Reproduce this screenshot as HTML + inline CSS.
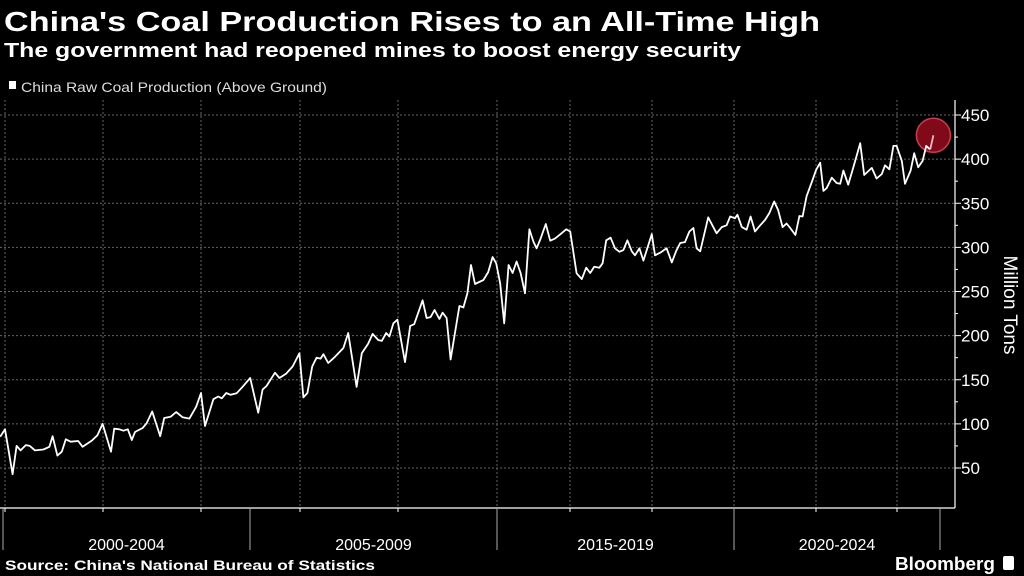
<!DOCTYPE html>
<html><head><meta charset="utf-8"><style>
html,body{margin:0;padding:0;background:#000;}
svg{display:block;font-family:"Liberation Sans","DejaVu Sans",sans-serif;}
</style></head><body>
<svg id="chart" width="1024" height="576" viewBox="0 0 1024 576">
<rect x="0" y="0" width="1024" height="576" fill="#000"/>
<text x="4" y="31" font-size="28" font-weight="bold" fill="#fff" textLength="816" lengthAdjust="spacingAndGlyphs">China's Coal Production Rises to an All-Time High</text>
<text x="4" y="57" font-size="20" font-weight="bold" fill="#fff" textLength="737" lengthAdjust="spacingAndGlyphs">The government had reopened mines to boost energy security</text>
<g>
<rect x="9" y="81" width="7" height="8" fill="#fff"/>
<text x="21" y="92" font-size="14" fill="#ddd" textLength="306" lengthAdjust="spacingAndGlyphs">China Raw Coal Production (Above Ground)</text>
</g>
<g id="grid"></g>
<g id="axes"></g>
<g id="series"></g>
<text x="0" y="0" font-size="19" fill="#fff" transform="translate(1004,305) rotate(90)" text-anchor="middle">Million Tons</text>
<text x="5" y="570" font-size="14" font-weight="bold" fill="#fff" textLength="370" lengthAdjust="spacingAndGlyphs">Source: China's National Bureau of Statistics</text>
<text x="895" y="570" font-size="18" font-weight="bold" fill="#fff" textLength="100" lengthAdjust="spacingAndGlyphs">Bloomberg</text>
<rect x="1003" y="556" width="11" height="14" rx="2" fill="#fff"/>
</svg>
<script>
// month index from start of series
const months = [-1.2,0,1.9,2.9,3.9,5.2,6.2,7.5,9.6,11.1,11.9,13.1,14.2,15.2,16.4,18.3,19.4,21.7,23.1,24.4,26.5,27.3,28.6,29.6,30.7,31.7,32.5,34.4,35.4,36.8,38.8,39.8,41.4,42.8,44.4,46.1,47.8,49,50,52.1,53.3,54.2,55.3,56.4,57.9,59.4,61.3,63.3,64.4,65.4,67.5,68.6,70.3,71.9,73.6,74.6,75.6,76.8,77.9,78.9,79.6,80.8,82.5,84.6,85.8,87.9,89.2,90.8,91.9,93.3,94.2,95.3,96.1,97.1,98.1,100,101.3,102.3,104.4,105.4,106.4,107.4,108.6,109.4,110.4,111.4,113.6,114.6,115.6,116.5,117.5,119.6,120.8,121.9,122.8,123.8,124.8,125.9,126.9,127.9,128.9,130,131.1,132.1,132.9,133.9,135.2,136.3,137.5,138.9,140.3,141.3,142.9,144.2,145.3,146.3,147.3,148.6,149.4,150.3,151.4,152.5,153.6,154.6,155.6,156.7,157.5,158.6,159.6,161.7,162.5,163.8,165.4,166.7,167.8,168.8,170,171.1,172.1,172.9,173.8,175.8,177.9,179.2,180.4,181.3,182.5,183.1,184.2,185.4,186.4,187.5,188.6,190,191.1,192.3,193.3,194.4,195.4,196.3,197.6,198.6,199.4,200.4,201.7,202.8,203.8,204.6,205.4,206.7,207.9,208.8,209.6,210.8,212.1,213.8,214.8,216.7,217.9,219.2,220,221.1,222.1,222.9,224.2,225,226.4,227.3,228.3,229.4,230.3,231.3,232.1];
const production = [85.5,93.8,43,75,70,76,75,70,71,74,86,64,68.5,82.5,79.8,80.6,74,81,87,100,68.5,94.5,93.8,92.3,93.8,81.7,90.8,95.3,100.6,114,86,106.7,108,113.5,107.4,106,119.5,135,97.6,128,131,129,135,133,134.6,142,152,112.7,139,143,158,152,157,165,180,130,135,165,175,174,179,169,176,186,203,142,180,191,202,195,194,203,199,214,218,170,211,213,240,220,221,229,219,226,220,173,233.6,232,248,280,258.5,263,272,289,282,259,214,280,271,284,271,248,320.5,306.5,299,310,326.5,307.6,310,315,320.5,318,270.6,264,277,271,278,277,282,308,311,299,295,297,308,295.5,291,299,285,315,291,294,299,283,296,305,306,318,322,299,295.5,334,316,323,325,335,333,337,323,320,335,318,324,331,339,352,342,323,327,322,314,335.6,335,358,374,388,396,364,367,379,373,372,387,371,391,418,382,390,378,383,393,388.5,415,415,398,372,387,406.6,390.7,398,415,411,427];
const yTicks = [50,100,150,200,250,300,350,400,450];
const yMinorTicks = [75,125,175,225,275,325,375,425];
const gridMonths = [0,24.5,49,73.75,98.25,123,141.25,161.75,182.25,202.75,223];
const periodBounds = [-0.5,61.25,123,182.25,233.75];
const periodLabels = ["2000-2004","2005-2009","2015-2019","2020-2024"];

const NS="http://www.w3.org/2000/svg";
function xS(t){return 5+4*t;}
function yS(v){return 468-(v-50)*0.8825;}
function mk(tag,attrs,parent){const e=document.createElementNS(NS,tag);for(const k in attrs)e.setAttribute(k,attrs[k]);parent.appendChild(e);return e;}
const grid=document.getElementById('grid'),axes=document.getElementById('axes'),series=document.getElementById('series');
const AXR=955, AXB=508;

yTicks.forEach(v=>{
  const l=mk('line',{x1:0,x2:AXR,y1:yS(v),y2:yS(v),stroke:'#666','stroke-width':1,'stroke-dasharray':'2,2'},grid);
  
  
  const tk=mk('line',{x1:AXR,x2:AXR+6,y1:yS(v),y2:yS(v),stroke:'#fff','stroke-width':1},axes);
  
  
  const t=mk('text',{x:AXR+6,y:yS(v)+6,'font-size':17,fill:'#fff'},axes);
  t.textContent=v;
  
  
});
yMinorTicks.forEach(v=>{
  const tk=mk('line',{x1:AXR,x2:AXR+3,y1:yS(v),y2:yS(v),stroke:'#fff','stroke-width':1},axes);
  
  
});
gridMonths.forEach(m=>{
  const l=mk('line',{x1:xS(m),x2:xS(m),y1:100,y2:AXB,stroke:'#666','stroke-width':1,'stroke-dasharray':'2,2'},grid);
  
  
  const tk=mk('line',{x1:xS(m),x2:xS(m),y1:AXB,y2:AXB+4,stroke:'#fff','stroke-width':1},axes);
  
  
});
const ya=mk('line',{x1:AXR,x2:AXR,y1:100,y2:AXB,stroke:'#fff','stroke-width':1.2},axes);


const xa=mk('line',{x1:0,x2:AXR,y1:AXB,y2:AXB,stroke:'#fff','stroke-width':1.2},axes);


periodBounds.forEach(m=>{
  const l=mk('line',{x1:xS(m),x2:xS(m),y1:AXB,y2:550,stroke:'#aaa','stroke-width':1},axes);
  
  
});
periodLabels.forEach((lab,i)=>{
  const c=(xS(periodBounds[i])+xS(periodBounds[i+1]))/2;
  const t=mk('text',{x:c,y:550,'font-size':16,fill:'#fff','text-anchor':'middle'},axes);
  t.textContent=lab;
  
  
});

const n=production.length;
const last={x:xS(months[n-1]),y:yS(production[n-1])};
const circ=mk('circle',{cx:last.x,cy:last.y,r:17,fill:'rgba(150,10,30,0.85)',stroke:'#c24050','stroke-width':1.5},series);


let d='';
for(let i=0;i<n-1;i++){d+=(i?'L':'M')+xS(months[i]).toFixed(1)+','+yS(production[i]).toFixed(1);}
const p=mk('path',{d:d,fill:'none',stroke:'#fff','stroke-width':1.8,'stroke-linejoin':'round'},series);


const seg=mk('line',{x1:xS(months[n-2]),y1:yS(production[n-2]),x2:last.x,y2:last.y,stroke:'#f4b8c0','stroke-width':1.8},series);


</script>
</body></html>
